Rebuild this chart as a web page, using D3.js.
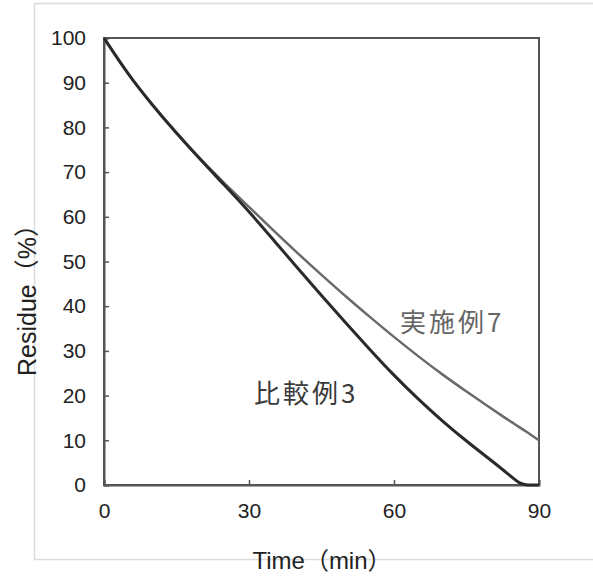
<!DOCTYPE html>
<html>
<head>
<meta charset="utf-8">
<script src="https://cdn.jsdelivr.net/npm/d3@7"></script>
<style>
  body { margin: 0; background: #fff; }
  svg { display: block; }
</style>
</head>
<body>
<div id="chart"></div>
<script>
// Time (min) sample points
const times = [0, 5, 10, 15, 20, 25, 30, 35, 40, 45, 50, 55, 60, 65, 70, 75, 80, 83, 85, 86, 87, 90];
// 比較例3 residue (%)
const comparative3 = [100, 91.8, 85, 78.7, 72.7, 67, 61.2, 54.9, 48.6, 42.4, 36.3, 30.3, 24.5, 19.2, 14.3, 9.8, 5.6, 3, 1.2, 0.4, 0, 0];
// 実施例7 residue (%)
const example7 = [100, 91.8, 85, 78.7, 72.8, 67.4, 62.2, 57, 51.9, 47, 42.2, 37.6, 33.1, 28.8, 24.7, 20.9, 17.2, 15, 13.6, 12.9, 12.2, 10];
const xTicks = [0, 30, 60, 90];
const yTicks = [0, 10, 20, 30, 40, 50, 60, 70, 80, 90, 100];

const width = 593, height = 581;
const margin = { left: 104, right: 54, top: 38, bottom: 96 };

const svg = d3.select('#chart')
    .append('svg')
    .attr('width', width)
    .attr('height', height);

// Light outer frame
svg.append('rect')
    .attr('x', 34.5).attr('y', 3.5)
    .attr('width', 570).attr('height', 556)
    .attr('fill', 'none')
    .attr('stroke', '#dcdcdc')
    .attr('stroke-width', 1.5);

const x = d3.scaleLinear().domain([0, 90]).range([margin.left, width - margin.right]);
const y = d3.scaleLinear().domain([0, 100]).range([height - margin.bottom, margin.top]);

const font = 'Liberation Sans, Arial, Noto Sans CJK JP, sans-serif';

// Plot box
svg.append('rect')
    .attr('x', x(0)).attr('y', y(100))
    .attr('width', x(90) - x(0)).attr('height', y(0) - y(100))
    .attr('fill', 'none')
    .attr('stroke', '#555')
    .attr('stroke-width', 2);

// Axes with inward ticks
const yAxis = svg.append('g')
    .attr('transform', `translate(${x(0)},0)`)
    .call(d3.axisLeft(y).tickValues(yTicks).tickSize(-5).tickPadding(18));
const xAxis = svg.append('g')
    .attr('transform', `translate(0,${y(0)})`)
    .call(d3.axisBottom(x).tickValues(xTicks).tickSize(-5).tickPadding(18));

[xAxis, yAxis].forEach(a => {
    a.select('.domain').attr('stroke', '#555').attr('stroke-width', 2);
    a.selectAll('.tick line').attr('stroke', '#555').attr('stroke-width', 1.5);
    a.selectAll('.tick text')
        .attr('fill', '#222')
        .attr('font-family', font)
        .attr('font-size', '21px');
});

// Curves (smoothed)
const line = d3.line()
    .x(d => x(d[0]))
    .y(d => y(d[1]))
    .curve(d3.curveBasis);

svg.append('path')
    .datum(times.map((t, i) => [t, example7[i]]))
    .attr('d', line)
    .attr('fill', 'none')
    .attr('stroke', '#6a6a6a')
    .attr('stroke-width', 2.5);

svg.append('path')
    .datum(times.map((t, i) => [t, comparative3[i]]))
    .attr('d', line)
    .attr('fill', 'none')
    .attr('stroke', '#2a2a2a')
    .attr('stroke-width', 3);

// Series annotations
svg.append('text')
    .attr('x', 400).attr('y', 332)
    .attr('font-family', 'Noto Sans CJK JP, sans-serif')
    .attr('font-size', '26px')
    .attr('letter-spacing', '3px')
    .attr('fill', '#666')
    .text('実施例7');

svg.append('text')
    .attr('x', 254).attr('y', 403)
    .attr('font-family', 'Noto Sans CJK JP, sans-serif')
    .attr('font-size', '26px')
    .attr('letter-spacing', '3px')
    .attr('fill', '#3a3a3a')
    .text('比較例3');

// Axis titles
svg.append('text')
    .attr('x', 322).attr('y', 569)
    .attr('text-anchor', 'middle')
    .attr('font-family', font)
    .attr('font-size', '24px')
    .attr('fill', '#222')
    .text('Time（min）');

svg.append('text')
    .attr('transform', 'translate(36,294) rotate(-90)')
    .attr('text-anchor', 'middle')
    .attr('font-family', font)
    .attr('font-size', '25px')
    .attr('fill', '#222')
    .text('Residue（%）');
</script>
</body>
</html>
